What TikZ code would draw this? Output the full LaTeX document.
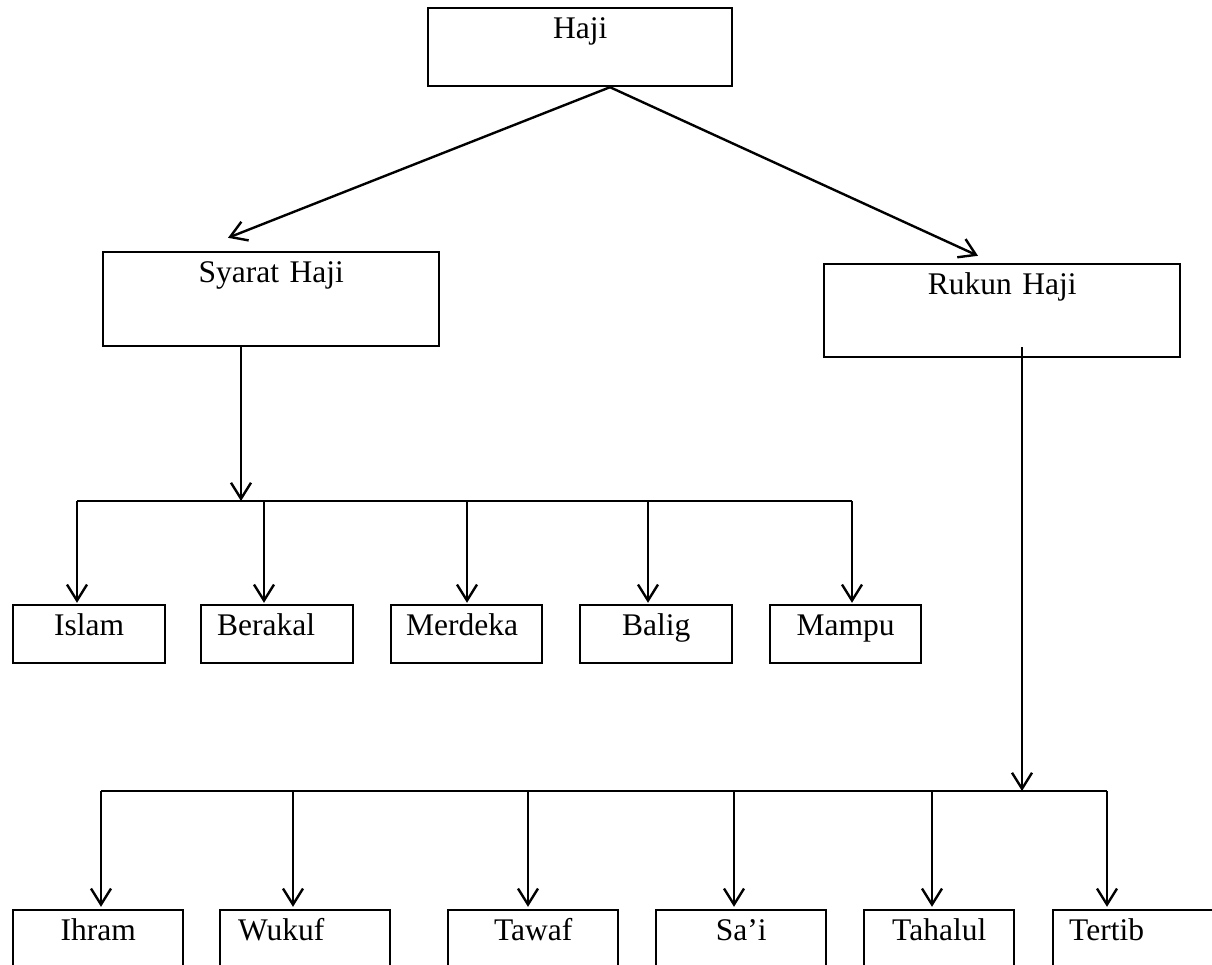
\documentclass[tikz,border=0pt]{standalone}
\usepackage{fontspec}
\setmainfont{Liberation Serif}
\usetikzlibrary{arrows.meta,calc}
\begin{document}
\begin{tikzpicture}[x=1pt,y=-1pt,
  box/.style={draw,line width=2.4pt,anchor=base west,inner ysep=0pt,
    text height=30pt,font=\fontsize{31.5}{36}\selectfont},
  mid/.style={inner xsep=0pt,align=center},
  lft/.style={inner xsep=16pt,align=left},
  link/.style={line width=2.4pt},
  arr/.style={link,-{Straight Barb[length=16pt,width=20pt]}},
]
\useasboundingbox (0,0) rectangle (1212,964);
\clip (0,0) rectangle (1212,964);

% root
\node[box,mid,text width=304pt,text depth=48pt] (haji) at (427,38) {Haji};

% second level
\node[box,mid,text width=336pt,text depth=64pt] (syarat) at (102,282) {Syarat Haji};
\node[box,mid,text width=356pt,text depth=63pt] (rukun) at (823,294) {Rukun Haji};

% conditions
\node[box,mid,text width=152pt,text depth=28pt] (islam) at (12,635) {Islam};
\node[box,lft,text width=120pt,text depth=28pt] (berakal) at (200,635) {Berakal};
\node[box,lft,text width=121pt,inner xsep=15pt,text depth=28pt] (merdeka) at (390,635) {Merdeka};
\node[box,mid,text width=152pt,text depth=28pt] (balig) at (579,635) {Balig};
\node[box,mid,text width=151pt,text depth=28pt] (mampu) at (769,635) {Mampu};

% pillars
\node[box,mid,text width=170pt,text depth=70pt] (ihram) at (12,940) {Ihram};
\node[box,lft,text width=134pt,inner xsep=18pt,text depth=70pt] (wukuf) at (219,940) {Wukuf};
\node[box,mid,text width=170pt,text depth=70pt] (tawaf) at (447,940) {Tawaf};
\node[box,mid,text width=170pt,text depth=70pt] (sai) at (655,940) {Sa’i};
\node[box,mid,text width=150pt,text depth=70pt] (tahalul) at (863,940) {Tahalul};
\node[box,lft,text width=168pt,text depth=70pt] (tertib) at (1052,940) {Tertib};

% root to second level
\coordinate (hajiout) at ($(haji.south west)+(183,0)$);
\draw[arr] (hajiout) -- ($(syarat.north west)+(126,-13)$);
\draw[arr] (hajiout) -- ($(rukun.north west)+(155,-7)$);

% Syarat Haji branch
\coordinate (sbusL) at (77,501);
\coordinate (sbusR) at (852,501);
\coordinate (sstem) at ($(syarat.south west)+(139,0)$);
\draw[arr] (sstem) -- (sstem |- sbusL);
\draw[link] (sbusL) -- (sbusR);
\foreach \x/\n in {77/islam,264/berakal,467/merdeka,648/balig,852/mampu}
  \draw[arr,shorten >=1pt] (\x,501) -- (\x,501 |- \n.north);

% Rukun Haji branch
\coordinate (rbusL) at (101,791);
\coordinate (rbusR) at (1107,791);
\coordinate (rstem) at ($(rukun.south west)+(199,-11)$);
\draw[arr] (rstem) -- (rstem |- rbusL);
\draw[link] (rbusL) -- (rbusR);
\foreach \x/\n in {101/ihram,293/wukuf,528/tawaf,734/sai,932/tahalul,1107/tertib}
  \draw[arr,shorten >=2pt] (\x,791) -- (\x,791 |- \n.north);
\end{tikzpicture}
\end{document}
